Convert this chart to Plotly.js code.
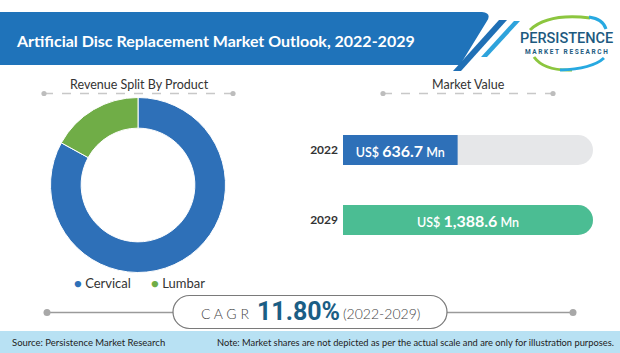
<!DOCTYPE html>
<html><head><meta charset="utf-8">
<script src="https://cdn.plot.ly/plotly-3.0.1.min.js"></script>
<style>html,body{margin:0;padding:0;background:#fff}#chart{width:620px;height:353px}</style>
</head><body><div id="chart"></div>
<script>
// ---- data ----
const products = ['Cervical', 'Lumbar'];
const productShares = [83, 17];
const years = ['2022', '2029'];
const marketValues = [636.7, 1388.6];
const cagrText = '11.80%';
const cagrPeriod = '(2022-2029)';

// ---- helpers (pixel -> paper) ----
const W = 620, H = 353;
const X = p => p / W, Y = p => 1 - p / H;
function pth(segs) {
  return segs.map(s => {
    const c = s[0]; const nums = s.slice(1);
    let out = c;
    for (let i = 0; i < nums.length; i += 2) out += (i ? ' ' : '') + X(nums[i]).toFixed(5) + ',' + Y(nums[i + 1]).toFixed(5);
    return out;
  }).join(' ');
}
function roundRect(x0, y0, x1, y1, r) {
  const k = 0.5523 * r;
  return [['M', x0 + r, y0], ['L', x1 - r, y0], ['C', x1 - r + k, y0, x1, y0 + r - k, x1, y0 + r],
    ['L', x1, y1 - r], ['C', x1, y1 - r + k, x1 - r + k, y1, x1 - r, y1], ['L', x0 + r, y1],
    ['C', x0 + r - k, y1, x0, y1 - r + k, x0, y1 - r], ['L', x0, y0 + r],
    ['C', x0, y0 + r - k, x0 + r - k, y0, x0 + r, y0], ['Z']];
}
function circ(cx, cy, r, color) {
  return {type: 'circle', xref: 'paper', yref: 'paper', x0: X(cx - r), x1: X(cx + r), y0: Y(cy + r), y1: Y(cy - r),
    fillcolor: color, line: {width: 0}};
}
function line(x0, y0, x1, y1, color, width, dash) {
  return {type: 'line', xref: 'paper', yref: 'paper', x0: X(x0), x1: X(x1), y0: Y(y0), y1: Y(y1),
    line: {color: color, width: width, dash: dash || 'solid'}};
}
function ann(text, x, y, opts) {
  return Object.assign({text: text, xref: 'paper', yref: 'paper', x: X(x), y: Y(y), showarrow: false,
    xanchor: 'center', yanchor: 'middle'}, opts || {});
}
const fmt = v => v.toLocaleString('en-US', {minimumFractionDigits: 1, maximumFractionDigits: 1});

const BLUE = '#2e70b8', GREEN = '#70ad47', TEAL = '#4bbd93', TRACK = '#e6e7e9';
const maxVal = Math.max(...marketValues);

const traces = [
  {
    type: 'pie', labels: products, values: productShares, sort: false, direction: 'clockwise', rotation: 0,
    hole: 0.65, textinfo: 'none', hoverinfo: 'label+percent', showlegend: false,
    marker: {colors: [BLUE, GREEN], line: {color: '#ffffff', width: 1}},
    domain: {x: [X(50.5), X(225.5)], y: [Y(272.5), Y(97.5)]}
  },
  {
    type: 'bar', orientation: 'h', y: years, x: years.map(() => maxVal), marker: {color: TRACK, cornerradius: 15},
    hoverinfo: 'skip', showlegend: false, xaxis: 'x', yaxis: 'y'
  },
  {
    type: 'bar', orientation: 'h', y: years, x: marketValues, marker: {color: [BLUE, TEAL], cornerradius: 15},
    text: marketValues.map(v => '<span style="font-size:12.5px;font-weight:600">US$ </span><b>' + fmt(v) + '</b><span style="font-size:12.5px;font-weight:600"> Mn</span>'),
    textposition: 'inside', insidetextanchor: 'middle', textangle: 0, constraintext: 'none',
    textfont: {family: 'Lato, sans-serif', size: 16, color: '#ffffff'},
    showlegend: false, xaxis: 'x', yaxis: 'y'
  }
];

const shapes = [
  // header banner
  {type: 'path', xref: 'paper', yref: 'paper', layer: 'below', fillcolor: '#1f73ba', line: {width: 0},
    path: pth([['M', 0, 12], ['L', 482, 12], ['Q', 492, 13, 487, 21], ['L', 460, 65], ['L', 0, 65], ['Z']])},
  // slashes
  {type: 'path', xref: 'paper', yref: 'paper', fillcolor: '#1f6fb5', line: {width: 0},
    path: pth([['M', 499, 20], ['L', 507, 20], ['L', 461, 71], ['L', 453, 71], ['Z']])},
  {type: 'path', xref: 'paper', yref: 'paper', fillcolor: '#2ea3dc', line: {width: 0},
    path: pth([['M', 514, 21], ['L', 520, 21], ['L', 487, 57], ['L', 481, 57], ['Z']])},
  // logo swooshes
  {type: 'path', xref: 'paper', yref: 'paper', fillcolor: 'rgba(0,0,0,0)', line: {color: '#8cc63f', width: 3},
    path: pth([['M', 530, 30], ['Q', 548, 13, 590, 18]])},
  {type: 'path', xref: 'paper', yref: 'paper', fillcolor: 'rgba(0,0,0,0)', line: {color: '#27a9e1', width: 3},
    path: pth([['M', 589, 17], ['Q', 603, 19, 606, 29]])},
  {type: 'path', xref: 'paper', yref: 'paper', fillcolor: 'rgba(0,0,0,0)', line: {color: '#8cc63f', width: 3},
    path: pth([['M', 534, 57], ['Q', 544, 71, 572, 70]])},
  {type: 'path', xref: 'paper', yref: 'paper', fillcolor: 'rgba(0,0,0,0)', line: {color: '#27a9e1', width: 3},
    path: pth([['M', 560, 70], ['Q', 592, 69, 604, 58]])},
  // section dashed lines
  line(44, 93.5, 233, 93.5, '#c8c8c8', 1.5, 'dash'), circ(44, 93.5, 2.6, '#bdbdbd'), circ(233, 93.5, 2.6, '#bdbdbd'),
  line(383, 93.5, 553, 93.5, '#c8c8c8', 1.5, 'dash'), circ(383, 93.5, 2.6, '#bdbdbd'), circ(553, 93.5, 2.6, '#bdbdbd'),
  // CAGR line + pill
  line(47, 312.5, 573, 312.5, '#9a9a9a', 1.3), circ(47, 312.5, 3.5, '#a8a8a8'), circ(573, 312.5, 3.5, '#a8a8a8'),
  {type: 'path', xref: 'paper', yref: 'paper', fillcolor: '#ffffff', line: {color: '#7a7a7a', width: 1.2},
    path: pth(roundRect(173, 295.5, 447, 328.5, 16.5))},
  // footer band
  {type: 'rect', xref: 'paper', yref: 'paper', x0: 0, x1: 1, y0: 0, y1: Y(331), fillcolor: '#b8e1f3', line: {width: 0}}
];

const annotations = [
  ann('Artificial Disc Replacement Market Outlook, 2022-2029', 14, 40,
    {xanchor: 'left', font: {family: 'Lato, sans-serif', size: 16, color: '#ffffff', weight: 'bold'}}),
  ann('PERSISTENCE', 566, 38, {font: {family: 'Roboto, sans-serif', size: 14.5, color: '#1d5a80', weight: 500}}),
  ann('M A R K E T   R E S E A R C H', 566, 52, {font: {family: 'Roboto, sans-serif', size: 6.5, color: '#1d5a80', weight: 'bold'}}),
  ann('Revenue Split By Product', 139, 84, {font: {family: 'Lato, sans-serif', size: 12.5, color: '#333333'}}),
  ann('Market Value', 468, 84, {font: {family: 'Lato, sans-serif', size: 12.5, color: '#333333'}}),
  ann('<span style="color:' + BLUE + '">●</span> ' + products[0], 72, 283, {xanchor: 'left', font: {family: 'Lato, sans-serif', size: 13, color: '#333333'}}),
  ann('<span style="color:' + GREEN + '">●</span> ' + products[1], 148.5, 283, {xanchor: 'left', font: {family: 'Lato, sans-serif', size: 13, color: '#333333'}}),
  ann('C A G R', 251, 313, {xanchor: 'right', font: {family: 'Lato, sans-serif', size: 14, color: '#444444', weight: 300}}),
  ann(cagrText, 255, 311.5, {xanchor: 'left', font: {family: 'Roboto, sans-serif', size: 25, color: '#1b5e85', weight: 'bold'}}),
  ann(cagrPeriod, 341, 313, {xanchor: 'left', font: {family: 'Lato, sans-serif', size: 14, color: '#444444', weight: 300}}),
  ann('Source: Persistence Market Research', 10, 342.5, {xanchor: 'left', font: {family: 'Lato, sans-serif', size: 9.5, color: '#222222'}}),
  ann('Note: Market shares are not depicted as per the actual scale and are only for illustration purposes.', 616, 342.5,
    {xanchor: 'right', font: {family: 'Lato, sans-serif', size: 9.3, color: '#222222'}})
];

const layout = {
  width: 620, height: 353, margin: {l: 0, r: 0, t: 0, b: 0, pad: 0},
  paper_bgcolor: '#ffffff', plot_bgcolor: 'rgba(0,0,0,0)',
  barmode: 'overlay', bargap: 1 - 30 / 70, showlegend: false,
  xaxis: {domain: [X(343), X(593)], range: [0, maxVal], visible: false, fixedrange: true},
  yaxis: {domain: [Y(255), Y(115)], type: 'category', categoryorder: 'array', categoryarray: years,
    range: [1.5, -0.5], showgrid: false, zeroline: false, showline: false, ticks: '', ticklabelstandoff: 4,
    tickfont: {family: 'Lato, sans-serif', size: 12, color: '#333333', weight: 'bold'}, fixedrange: true},
  shapes: shapes, annotations: annotations
};

Plotly.newPlot('chart', traces, layout, {displayModeBar: false, staticPlot: true});
</script></body></html>
